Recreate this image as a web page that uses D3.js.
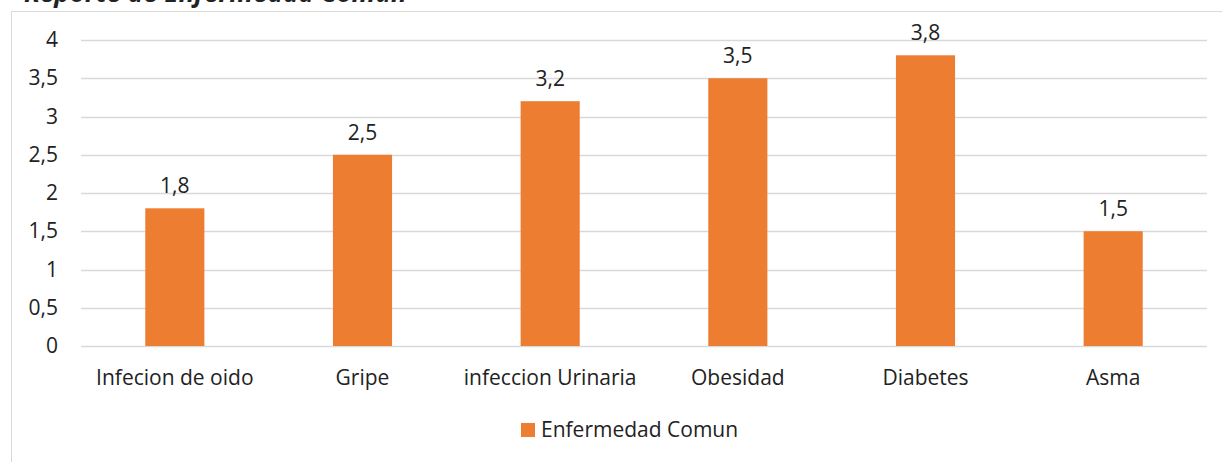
<!DOCTYPE html>
<html>
<head>
<meta charset="utf-8">
<script src="https://cdn.jsdelivr.net/npm/d3@7"></script>
<style>
  body { margin: 0; background: #fff; }
  svg { display: block; font-family: "Open Sans", "Noto Sans", sans-serif; }
</style>
</head>
<body>
<div class="chart"></div>
<script>
// data
const categorias = ['Infecion de oido', 'Gripe', 'infeccion Urinaria', 'Obesidad', 'Diabetes', 'Asma'];
const valores = [1.8, 2.5, 3.2, 3.5, 3.8, 1.5];
const ticksY = [0, 0.5, 1, 1.5, 2, 2.5, 3, 3.5, 4];
const serie = 'Enfermedad Comun';
const titulo = 'Reporte de Enfermedad Comun';

const width = 1222;
const height = 462;
const fs = 21;
const svg = d3.select('.chart')
    .append('svg')
    .attr('width', width)
    .attr('height', height);

//chart frame
svg.append('rect')
    .attr('x', 11.5).attr('y', 11.5)
    .attr('width', 1240).attr('height', 500)
    .attr('fill', 'none')
    .attr('stroke', '#d9d9d9');

//cut-off title
svg.append('text')
    .attr('x', 24).attr('y', 2)
    .attr('font-size', 26)
    .attr('font-style', 'italic')
    .attr('font-weight', 'bold')
    .attr('fill', '#222')
    .text(titulo);

const x = d3.scaleBand()
    .domain(categorias)
    .range([81, 1207])
    .paddingInner(0.685)
    .paddingOuter(0.3425);

const y = d3.scaleLinear()
    .domain([0, 4])
    .range([346, 40]);

//gridlines
svg.selectAll('.grid')
    .data(ticksY)
    .enter()
    .append('line')
    .attr('x1', 81).attr('x2', 1207)
    .attr('y1', d => Math.round(y(d)) + 0.5)
    .attr('y2', d => Math.round(y(d)) + 0.5)
    .attr('stroke', '#d9d9d9')
    .attr('stroke-width', 1.5);

//y labels
svg.selectAll('.ylab')
    .data(ticksY)
    .enter()
    .append('text')
    .attr('x', 58)
    .attr('y', d => y(d) + 7)
    .attr('text-anchor', 'end')
    .attr('font-size', fs)
    .attr('fill', '#222')
    .text(d => String(d).replace('.', ','));

//bars
svg.selectAll('.bar')
    .data(valores)
    .enter()
    .append('rect')
    .attr('x', (d, i) => x(categorias[i]))
    .attr('y', d => y(d))
    .attr('width', x.bandwidth())
    .attr('height', d => y(0) - y(d))
    .attr('fill', '#ed7d31');

//value labels
svg.selectAll('.val')
    .data(valores)
    .enter()
    .append('text')
    .attr('x', (d, i) => x(categorias[i]) + x.bandwidth() / 2)
    .attr('y', d => y(d) - 15)
    .attr('text-anchor', 'middle')
    .attr('font-size', fs)
    .attr('fill', '#222')
    .text(d => String(d).replace('.', ','));

//category labels
svg.selectAll('.cat')
    .data(categorias)
    .enter()
    .append('text')
    .attr('x', d => x(d) + x.bandwidth() / 2)
    .attr('y', 385)
    .attr('text-anchor', 'middle')
    .attr('font-size', fs)
    .attr('fill', '#222')
    .text(d => d);

//legend
svg.append('rect')
    .attr('x', 521).attr('y', 423)
    .attr('width', 14).attr('height', 14)
    .attr('fill', '#ed7d31');
svg.append('text')
    .attr('x', 541).attr('y', 437)
    .attr('font-size', fs)
    .attr('fill', '#222')
    .text(serie);
</script>
</body>
</html>
